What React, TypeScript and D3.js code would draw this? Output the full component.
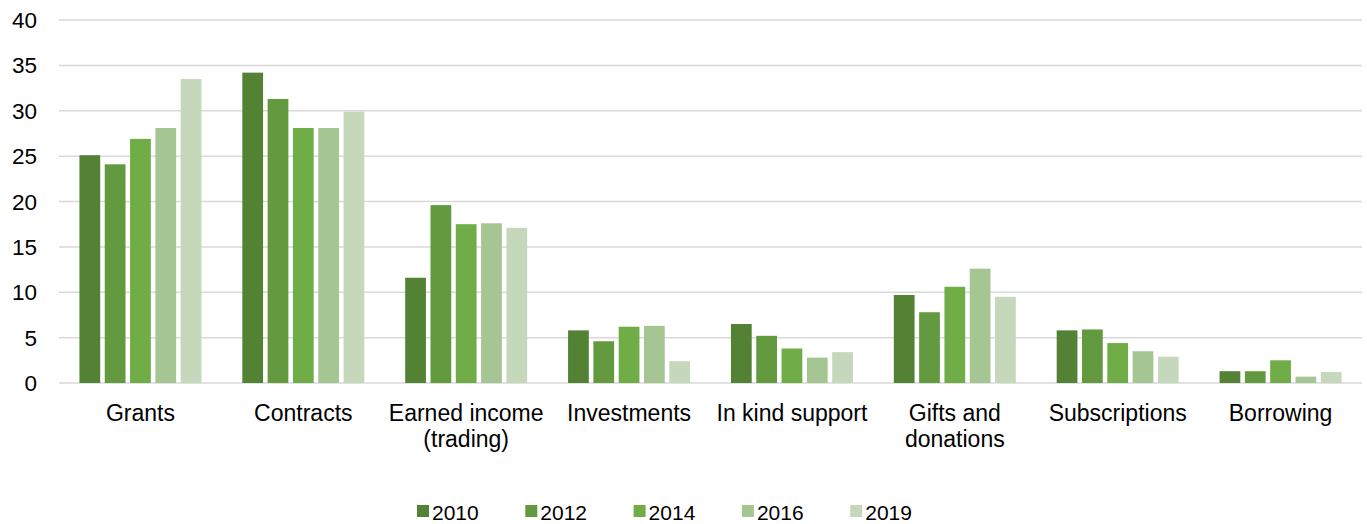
import React from "react";
import * as d3 from "d3";

const categories = [
  ["Grants"],
  ["Contracts"],
  ["Earned income", "(trading)"],
  ["Investments"],
  ["In kind support"],
  ["Gifts and", "donations"],
  ["Subscriptions"],
  ["Borrowing"],
];
const years = ["2010", "2012", "2014", "2016", "2019"];
const v2010 = [25.1, 34.2, 11.6, 5.8, 6.5, 9.7, 5.8, 1.3];
const v2012 = [24.1, 31.3, 19.6, 4.6, 5.2, 7.8, 5.9, 1.3];
const v2014 = [26.9, 28.1, 17.5, 6.2, 3.8, 10.6, 4.4, 2.5];
const v2016 = [28.1, 28.1, 17.6, 6.3, 2.8, 12.6, 3.5, 0.7];
const v2019 = [33.5, 29.9, 17.1, 2.4, 3.4, 9.5, 2.9, 1.2];
const series = [v2010, v2012, v2014, v2016, v2019];
const colors = ["#548235", "#639A3F", "#70AD47", "#A5C592", "#C5D8BC"];
const yTicks = [0, 5, 10, 15, 20, 25, 30, 35, 40];

export default function App() {
  const W = 1367, H = 524;
  const left = 59, right = 1362, top = 20, bottom = 383;
  const x = d3.scaleBand<number>().domain(d3.range(categories.length)).range([left, right]);
  const y = d3.scaleLinear().domain([0, 40]).range([bottom, top]);
  const inner = d3.scaleBand<number>().domain(d3.range(years.length)).range([0, 122]).paddingInner(0.18);
  const groupOffset = (x.bandwidth() - 122) / 2;
  const font = "'Liberation Sans', Arial, sans-serif";
  return (
    <svg width={W} height={H} style={{ position: "absolute", left: 0, top: 0 }} fontFamily={font}>
      <rect width={W} height={H} fill="#fff" />
      {yTicks.map((t) => (
        <g key={t}>
          <line x1={left} x2={right} y1={y(t)} y2={y(t)} stroke="#d9d9d9" strokeWidth={1.5} />
          <text x={37} y={y(t)} dy="0.36em" textAnchor="end" fontSize={22.5} fill="#000">{t}</text>
        </g>
      ))}
      {categories.map((c, i) => (
        <g key={i}>
          {series.map((s, j) => (
            <rect
              key={j}
              x={(x(i) as number) + groupOffset + (inner(j) as number)}
              y={y(s[i])}
              width={inner.bandwidth()}
              height={y(0) - y(s[i])}
              fill={colors[j]}
            />
          ))}
          {c.map((line, k) => (
            <text key={k} x={(x(i) as number) + x.bandwidth() / 2} y={420.5 + k * 26} textAnchor="middle" fontSize={23} fill="#000">
              {line}
            </text>
          ))}
        </g>
      ))}
      {years.map((yr, j) => (
        <g key={yr} transform={`translate(${417 + j * 108.3},0)`}>
          <rect x={0} y={505} width={12} height={12} fill={colors[j]} />
          <text x={15} y={519.5} fontSize={21} fill="#000">{yr}</text>
        </g>
      ))}
    </svg>
  );
}
